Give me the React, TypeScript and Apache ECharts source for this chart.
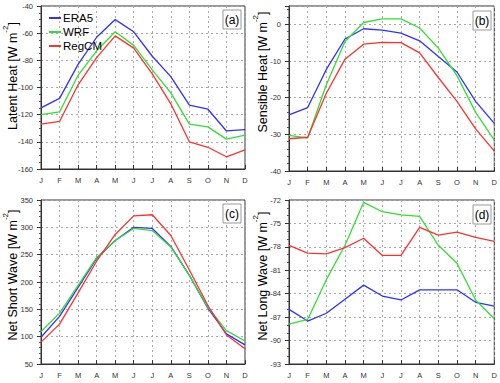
import React, { useEffect, useRef } from "react";
import * as echarts from "echarts";

const months = ["J", "F", "M", "A", "M", "J", "J", "A", "S", "O", "N", "D"];
const seriesNames = ["ERA5", "WRF", "RegCM"];
const seriesColors = ["#3030ff", "#30e030", "#ff3030"];

// (a) Latent heat
const latentERA5 = [-115, -108, -83, -63, -50, -59, -77, -92, -113, -116, -132, -131];
const latentWRF = [-120, -118, -91, -73, -59, -69, -87, -104, -127, -129, -138, -135];
const latentRegCM = [-127, -125, -98, -78, -62, -71, -90, -112, -140, -144, -151, -146];

// (b) Sensible heat
const sensibleERA5 = [-24.7, -22.7, -12.3, -4, -1.2, -1.6, -2.4, -4.5, -8.8, -13, -21, -27];
const sensibleWRF = [-30.3, -31, -16.5, -4.7, 0.5, 1.5, 1.5, -1, -6.5, -14, -24, -31.6];
const sensibleRegCM = [-31.2, -30.8, -18.8, -9.5, -5.4, -4.9, -5, -7.8, -14.5, -21, -28.5, -34.6];

// (c) Net short wave
const shortERA5 = [99, 137, 190, 243, 276, 300, 298, 265, 212, 152, 105, 85];
const shortWRF = [109, 143, 194, 245, 276, 298, 294, 264, 212, 154, 111, 92];
const shortRegCM = [90, 123, 180, 238, 287, 321, 323, 285, 222, 157, 103, 78];

// (d) Net long wave
const longERA5 = [-86.0, -87.5, -86.5, -84.7, -82.9, -84.3, -84.8, -83.5, -83.5, -83.5, -85.1, -85.6];
const longWRF = [-87.9, -87.3, -82.2, -77.8, -72.3, -73.5, -73.9, -74.1, -77.8, -80.1, -84.8, -87.2];
const longRegCM = [-77.8, -78.8, -78.9, -78.1, -76.9, -79.1, -79.1, -75.5, -76.5, -76.1, -76.8, -77.3];

const panelData = [
  [latentERA5, latentWRF, latentRegCM],
  [sensibleERA5, sensibleWRF, sensibleRegCM],
  [shortERA5, shortWRF, shortRegCM],
  [longERA5, longWRF, longRegCM],
];

const yRanges = [
  { min: -160, max: -40, interval: 20, minor: 4 },
  { min: -40, max: 5, interval: 10, minor: 5 },
  { min: 50, max: 350, interval: 50, minor: 5 },
  { min: -93, max: -72, interval: 3, minor: 3 },
];

const yTitles = ["Latent Heat [W m", "Sensible Heat [W m", "Net Short Wave [W m", "Net Long Wave [W m"];
const panelLabels = ["(a)", "(b)", "(c)", "(d)"];

const FONT = "'Liberation Sans', Arial, Helvetica, sans-serif";

const grids = [
  { left: 41, top: 6, width: 204, height: 163 },
  { left: 289, top: 6, width: 206, height: 165 },
  { left: 41, top: 200, width: 204, height: 164 },
  { left: 289, top: 200, width: 206, height: 164 },
];

const titlePos = [
  { x: 10, y: 76 },
  { x: 260, y: 72 },
  { x: 10, y: 275 },
  { x: 260, y: 276 },
];

const labelBoxes = [
  { x: 223, y: 10 },
  { x: 473, y: 11 },
  { x: 223, y: 204 },
  { x: 473, y: 205 },
];

export default function App() {
  const ref = useRef<HTMLDivElement>(null);

  useEffect(() => {
    if (!ref.current) return;
    const chart = echarts.init(ref.current, null, { renderer: "svg" });

    const xAxes = grids.map((_, i) => ({
      type: "category",
      gridIndex: i,
      data: months,
      boundaryGap: false,
      axisLine: { show: true, onZero: false, lineStyle: { color: "#333", width: 1 } },
      axisTick: { show: true, inside: true, length: 4, lineStyle: { color: "#333" } },
      axisLabel: { fontSize: 7.5, color: "#333", margin: 7, fontFamily: FONT, interval: 0 },
      splitLine: { show: true, lineStyle: { color: "#aaa", type: [2, 3], width: 1 } },
    }));

    const yAxes = yRanges.map((r, i) => ({
      type: "value",
      gridIndex: i,
      min: r.min,
      max: r.max,
      interval: r.interval,
      axisLine: { show: true, onZero: false, lineStyle: { color: "#333", width: 1 } },
      axisTick: { show: true, length: 4, lineStyle: { color: "#333" } },
      minorTick: { show: true, splitNumber: r.minor, length: 2, lineStyle: { color: "#555" } },
      axisLabel: {
        fontSize: 7.5,
        color: "#333",
        margin: 8,
        fontFamily: FONT,
        showMaxLabel: r.max % r.interval === 0,
      },
      splitLine: { show: true, lineStyle: { color: "#aaa", type: [2, 3], width: 1 } },
    }));

    const series: any[] = [];
    panelData.forEach((arrs, p) => {
      arrs.forEach((vals, s) => {
        series.push({
          type: "line",
          name: seriesNames[s],
          xAxisIndex: p,
          yAxisIndex: p,
          data: vals,
          symbol: "none",
          lineStyle: { color: seriesColors[s], width: 1.3 },
          itemStyle: { color: seriesColors[s] },
          z: 3,
        });
      });
    });

    const graphics: any[] = [];
    yTitles.forEach((t, i) => {
      graphics.push({
        type: "text",
        x: titlePos[i].x,
        y: titlePos[i].y,
        rotation: Math.PI / 2,
        z: 10,
        style: {
          text: `{n|${t}}{s|-2}{n|]}`,
          align: "center",
          verticalAlign: "middle",
          fill: "#000",
          rich: {
            n: { fontSize: 12.5, fontFamily: FONT, fill: "#000", lineHeight: 18, verticalAlign: "bottom" },
            s: { fontSize: 8, fontFamily: FONT, fill: "#000", lineHeight: 8, verticalAlign: "top" },
          },
        },
      });
    });
    panelLabels.forEach((lab, i) => {
      const b = labelBoxes[i];
      graphics.push({
        type: "rect",
        z: 10,
        shape: { x: b.x, y: b.y, width: 18, height: 19 },
        style: { fill: "#fff", stroke: "#999", lineWidth: 1 },
      });
      graphics.push({
        type: "text",
        z: 11,
        x: b.x + 9,
        y: b.y + 9.5,
        style: {
          text: lab,
          fontSize: 12,
          fontFamily: FONT,
          fill: "#000",
          align: "center",
          verticalAlign: "middle",
        },
      });
    });

    chart.setOption({
      animation: false,
      backgroundColor: "#fff",
      grid: grids.map((g) => ({ ...g, show: true, borderColor: "#333", borderWidth: 1, backgroundColor: "transparent" })),
      xAxis: xAxes,
      yAxis: yAxes,
      legend: {
        data: seriesNames.map((n) => ({ name: n, icon: "rect" })),
        orient: "vertical",
        left: 44,
        top: 6,
        itemWidth: 12,
        itemHeight: 2,
        itemGap: 0,
        selectedMode: false,
        textStyle: { fontSize: 11.5, lineHeight: 14, fontFamily: FONT, color: "#000", padding: [0, 0, 0, -3] },
      },
      series,
      graphic: graphics,
    });

    return () => chart.dispose();
  }, []);

  return <div ref={ref} style={{ position: "fixed", left: 0, top: 0, width: 500, height: 383 }} />;
}
